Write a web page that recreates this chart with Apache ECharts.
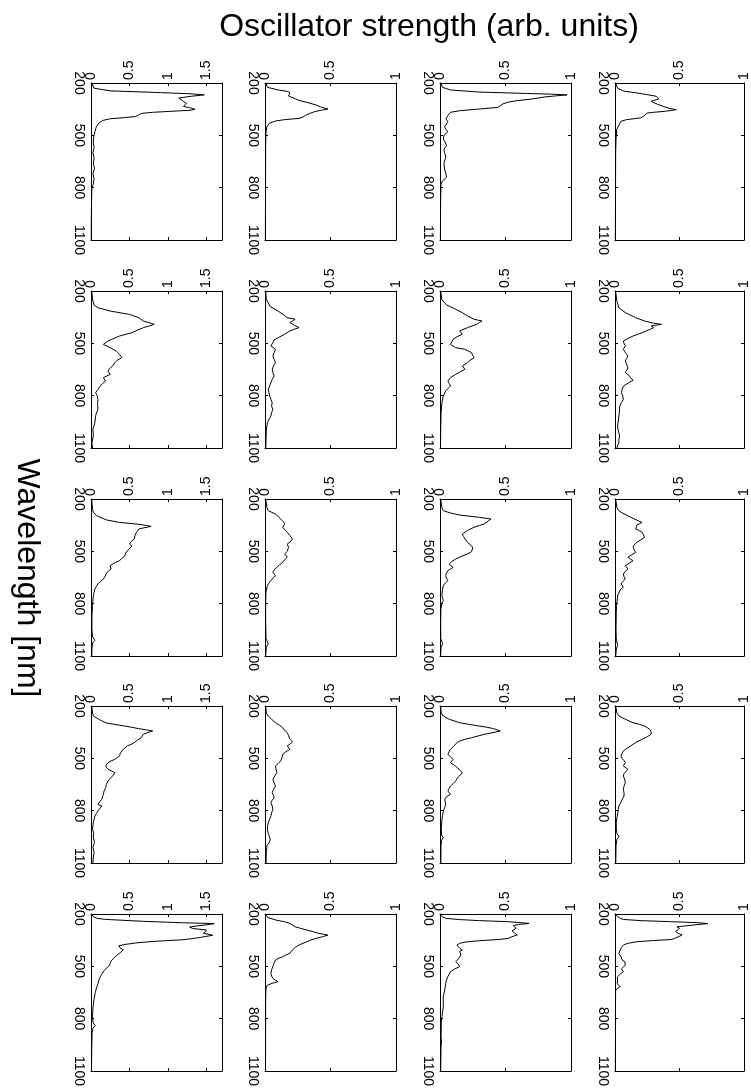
<!DOCTYPE html>
<html lang="en">
<head>
    <meta charset="UTF-8">
    <title>Oscillator strength spectra</title>
    <script src="https://cdn.jsdelivr.net/npm/echarts@6/dist/echarts.min.js"></script>
    <style>
        html, body { margin: 0; padding: 0; background: #fff; }
        #chart { width: 751px; height: 1092px; }
    </style>
</head>
<body>
<div id="chart"></div>
<script>
// each panel: [wavelength nm, oscillator strength]
var r1c1 = [[200,0.01],[230,0.04],[245,0.25],[255,0.9],[262,1.3],[268,1.47],[276,1.3],[286,1.14],[296,1.15],[306,1.2],[316,1.24],[326,1.25],[334,1.2],[342,1.28],[350,1.35],[356,1.3],[362,1.05],[368,0.8],[374,0.66],[382,0.62],[392,0.58],[398,0.45],[405,0.25],[415,0.15],[430,0.1],[450,0.07],[480,0.05],[510,0.035],[540,0.03],[570,0.04],[600,0.025],[630,0.04],[660,0.03],[690,0.045],[720,0.025],[750,0.04],[780,0.03],[800,0.012],[850,0.008],[950,0.005],[1100,0.003]];
var r1c2 = [[200,0.005],[225,0.02],[240,0.1],[248,0.17],[254,0.19],[262,0.18],[275,0.18],[290,0.23],[300,0.26],[311,0.32],[326,0.39],[339,0.43],[349,0.48],[356,0.43],[364,0.38],[375,0.34],[385,0.31],[395,0.29],[403,0.26],[410,0.15],[418,0.08],[430,0.035],[450,0.015],[480,0.008],[550,0.005],[1100,0.003]];
var r1c3 = [[200,0.005],[225,0.02],[240,0.08],[252,0.3],[260,0.66],[264,0.85],[268,0.97],[274,0.88],[280,0.8],[292,0.7],[301,0.59],[310,0.52],[320,0.48],[330,0.46],[340,0.44],[349,0.3],[359,0.15],[368,0.08],[387,0.06],[406,0.045],[420,0.06],[435,0.05],[450,0.035],[465,0.045],[480,0.06],[500,0.03],[521,0.025],[540,0.04],[559,0.05],[580,0.03],[600,0.035],[620,0.045],[636,0.04],[660,0.03],[693,0.035],[720,0.045],[741,0.05],[760,0.02],[780,0.008],[850,0.005],[1100,0.003]];
var r1c4 = [[200,0.005],[230,0.02],[247,0.07],[257,0.17],[267,0.25],[276,0.32],[292,0.34],[300,0.3],[305,0.28],[314,0.27],[322,0.33],[333,0.37],[343,0.41],[353,0.475],[362,0.39],[368,0.3],[372,0.25],[391,0.22],[400,0.2],[410,0.09],[420,0.045],[429,0.03],[467,0.013],[524,0.008],[600,0.005],[1100,0.003]];

var r2c1 = [[200,0.01],[248,0.02],[280,0.04],[296,0.09],[315,0.25],[334,0.5],[353,0.62],[372,0.68],[391,0.82],[400,0.76],[410,0.68],[425,0.6],[439,0.53],[458,0.37],[475,0.28],[487,0.22],[506,0.16],[525,0.25],[545,0.33],[563,0.37],[582,0.4],[597,0.34],[611,0.31],[630,0.28],[645,0.24],[659,0.22],[678,0.25],[697,0.16],[716,0.19],[730,0.15],[745,0.12],[764,0.09],[783,0.06],[800,0.08],[821,0.09],[850,0.085],[879,0.09],[900,0.07],[917,0.06],[955,0.05],[993,0.025],[1031,0.03],[1070,0.012],[1100,0.02]];
var r2c2 = [[200,0.005],[248,0.01],[290,0.04],[315,0.1],[335,0.14],[353,0.17],[362,0.23],[372,0.21],[381,0.19],[395,0.22],[410,0.26],[420,0.22],[429,0.19],[448,0.15],[468,0.1],[480,0.07],[496,0.06],[515,0.045],[534,0.08],[553,0.07],[572,0.06],[592,0.07],[611,0.08],[630,0.065],[649,0.055],[668,0.06],[687,0.07],[706,0.055],[726,0.045],[745,0.035],[764,0.025],[783,0.03],[802,0.036],[821,0.045],[840,0.055],[860,0.05],[879,0.06],[898,0.05],[917,0.045],[936,0.03],[955,0.018],[1000,0.01],[1050,0.008],[1100,0.006]];
var r2c3 = [[200,0.005],[250,0.015],[280,0.05],[305,0.12],[324,0.17],[343,0.21],[362,0.26],[372,0.32],[381,0.3],[391,0.28],[410,0.21],[429,0.15],[448,0.17],[462,0.13],[477,0.1],[492,0.09],[506,0.08],[525,0.12],[534,0.19],[553,0.24],[570,0.25],[582,0.26],[597,0.23],[611,0.21],[630,0.17],[649,0.19],[665,0.15],[678,0.12],[697,0.08],[716,0.06],[730,0.07],[745,0.08],[760,0.06],[773,0.044],[802,0.025],[840,0.015],[900,0.008],[1000,0.005],[1100,0.004]];
var r2c4 = [[200,0.005],[260,0.015],[296,0.03],[324,0.08],[353,0.16],[372,0.23],[385,0.3],[391,0.36],[400,0.28],[410,0.3],[420,0.27],[439,0.21],[458,0.14],[472,0.1],[487,0.065],[500,0.07],[515,0.08],[534,0.065],[553,0.08],[572,0.1],[587,0.09],[601,0.08],[620,0.09],[640,0.1],[655,0.09],[668,0.08],[685,0.11],[697,0.12],[712,0.14],[720,0.13],[733,0.09],[745,0.065],[764,0.055],[783,0.05],[802,0.06],[821,0.065],[840,0.05],[860,0.036],[888,0.035],[917,0.03],[945,0.025],[974,0.02],[1000,0.025],[1031,0.036],[1050,0.03],[1070,0.03],[1085,0.02],[1100,0.015]];

var r3c1 = [[200,0.01],[260,0.02],[276,0.03],[295,0.07],[305,0.09],[320,0.2],[334,0.37],[345,0.62],[352,0.72],[357,0.78],[364,0.7],[372,0.62],[382,0.6],[391,0.59],[410,0.57],[429,0.56],[445,0.52],[458,0.5],[470,0.53],[477,0.53],[487,0.49],[496,0.47],[510,0.45],[525,0.44],[540,0.4],[554,0.37],[563,0.32],[573,0.28],[582,0.25],[592,0.24],[601,0.26],[611,0.25],[620,0.21],[630,0.19],[645,0.18],[659,0.16],[673,0.12],[687,0.09],[700,0.07],[716,0.05],[735,0.04],[754,0.03],[780,0.025],[812,0.02],[870,0.012],[950,0.012],[990,0.02],[1010,0.05],[1025,0.02],[1060,0.012],[1100,0.01]];
var r3c2 = [[200,0.005],[250,0.015],[267,0.025],[286,0.08],[300,0.1],[315,0.12],[330,0.14],[343,0.15],[352,0.14],[362,0.135],[375,0.15],[391,0.17],[410,0.19],[420,0.2],[429,0.21],[438,0.2],[448,0.19],[458,0.17],[468,0.16],[477,0.18],[487,0.19],[500,0.17],[515,0.15],[525,0.16],[534,0.17],[548,0.15],[563,0.135],[578,0.11],[592,0.09],[606,0.07],[620,0.06],[630,0.07],[640,0.08],[654,0.06],[668,0.045],[682,0.03],[697,0.018],[735,0.007],[800,0.005],[900,0.005],[1000,0.008],[1030,0.025],[1050,0.01],[1100,0.005]];
var r3c3 = [[200,0.005],[250,0.015],[267,0.025],[280,0.08],[292,0.15],[305,0.3],[315,0.39],[325,0.37],[343,0.34],[352,0.3],[362,0.26],[380,0.21],[401,0.17],[415,0.18],[429,0.19],[448,0.21],[468,0.24],[480,0.25],[490,0.26],[503,0.24],[515,0.21],[530,0.16],[544,0.12],[558,0.09],[573,0.07],[582,0.08],[592,0.1],[601,0.08],[611,0.06],[625,0.05],[640,0.044],[654,0.05],[668,0.06],[682,0.04],[697,0.025],[725,0.018],[754,0.015],[770,0.02],[783,0.025],[797,0.015],[830,0.007],[900,0.005],[1000,0.006],[1030,0.02],[1050,0.008],[1100,0.005]];
var r3c4 = [[200,0.005],[250,0.015],[267,0.03],[282,0.06],[296,0.1],[311,0.14],[325,0.18],[334,0.21],[342,0.19],[349,0.17],[360,0.16],[372,0.16],[382,0.19],[391,0.21],[405,0.22],[420,0.23],[434,0.2],[448,0.17],[462,0.15],[477,0.14],[492,0.15],[506,0.16],[520,0.13],[534,0.1],[544,0.12],[554,0.14],[568,0.11],[582,0.08],[592,0.09],[601,0.1],[615,0.08],[630,0.065],[645,0.07],[659,0.08],[673,0.06],[687,0.047],[697,0.055],[706,0.065],[716,0.045],[726,0.03],[750,0.022],[773,0.018],[810,0.012],[850,0.01],[950,0.008],[1000,0.01],[1040,0.02],[1060,0.01],[1100,0.006]];

var r4c1 = [[200,0.01],[240,0.02],[257,0.03],[276,0.1],[296,0.19],[305,0.3],[315,0.44],[322,0.53],[330,0.62],[337,0.72],[343,0.8],[352,0.74],[362,0.68],[372,0.66],[382,0.65],[396,0.6],[410,0.56],[420,0.52],[429,0.47],[443,0.43],[458,0.4],[472,0.38],[487,0.37],[496,0.34],[506,0.31],[515,0.26],[525,0.22],[535,0.2],[544,0.19],[553,0.2],[563,0.22],[573,0.27],[582,0.31],[592,0.3],[601,0.28],[615,0.25],[630,0.22],[649,0.2],[668,0.19],[687,0.17],[706,0.16],[720,0.15],[735,0.14],[750,0.11],[764,0.09],[773,0.14],[783,0.12],[802,0.09],[816,0.07],[831,0.05],[850,0.04],[869,0.03],[907,0.02],[930,0.035],[950,0.03],[980,0.045],[1010,0.025],[1040,0.04],[1070,0.03],[1100,0.025]];
var r4c2 = [[200,0.005],[240,0.01],[257,0.025],[276,0.05],[296,0.08],[310,0.11],[324,0.135],[340,0.15],[353,0.17],[370,0.18],[390,0.19],[405,0.21],[410,0.21],[420,0.19],[429,0.17],[438,0.18],[448,0.19],[462,0.16],[477,0.135],[496,0.13],[515,0.12],[530,0.1],[544,0.08],[563,0.085],[582,0.09],[600,0.075],[620,0.06],[640,0.07],[659,0.08],[678,0.065],[697,0.055],[712,0.065],[726,0.07],[740,0.055],[754,0.045],[773,0.055],[793,0.06],[812,0.05],[831,0.045],[850,0.035],[869,0.025],[890,0.02],[907,0.018],[930,0.025],[950,0.035],[968,0.04],[985,0.03],[1000,0.015],[1040,0.01],[1100,0.008]];
var r4c3 = [[200,0.005],[240,0.01],[257,0.025],[276,0.07],[296,0.15],[305,0.22],[315,0.3],[322,0.36],[330,0.41],[338,0.44],[343,0.46],[350,0.42],[362,0.34],[372,0.29],[382,0.24],[391,0.19],[401,0.15],[410,0.13],[420,0.12],[434,0.1],[448,0.08],[462,0.07],[477,0.06],[491,0.08],[506,0.1],[515,0.09],[525,0.08],[540,0.11],[554,0.135],[568,0.15],[582,0.17],[592,0.16],[601,0.15],[615,0.13],[630,0.12],[645,0.1],[659,0.08],[673,0.07],[687,0.06],[697,0.07],[706,0.08],[720,0.05],[735,0.036],[750,0.04],[764,0.044],[783,0.035],[802,0.025],[826,0.02],[850,0.015],[900,0.01],[940,0.012],[955,0.025],[970,0.012],[1000,0.008],[1100,0.006]];
var r4c4 = [[200,0.005],[240,0.015],[257,0.03],[276,0.08],[296,0.14],[305,0.19],[315,0.23],[324,0.25],[334,0.27],[348,0.28],[362,0.28],[376,0.25],[391,0.21],[405,0.17],[420,0.14],[439,0.1],[458,0.065],[472,0.055],[487,0.047],[500,0.055],[513,0.07],[525,0.08],[535,0.07],[544,0.065],[553,0.08],[563,0.1],[575,0.085],[588,0.07],[601,0.065],[620,0.075],[640,0.08],[659,0.07],[678,0.065],[697,0.07],[716,0.07],[730,0.06],[745,0.05],[760,0.04],[773,0.03],[793,0.025],[812,0.022],[840,0.015],[869,0.01],[900,0.01],[930,0.015],[950,0.03],[965,0.015],[1000,0.008],[1100,0.006]];

var r5c1 = [[200,0.01],[215,0.03],[225,0.08],[231,0.19],[242,0.68],[250,1.18],[255,1.6],[262,1.5],[268,1.38],[275,1.28],[283,1.32],[292,1.5],[302,1.5],[311,1.46],[316,1.52],[322,1.58],[328,1.5],[334,1.42],[342,1.3],[348,1.18],[356,0.85],[365,0.6],[374,0.45],[382,0.36],[388,0.34],[396,0.38],[406,0.42],[415,0.4],[425,0.37],[438,0.33],[450,0.3],[465,0.27],[480,0.25],[495,0.24],[510,0.2],[525,0.17],[545,0.14],[560,0.12],[580,0.1],[600,0.09],[625,0.07],[650,0.056],[685,0.04],[720,0.03],[760,0.022],[800,0.02],[825,0.03],[840,0.055],[855,0.025],[880,0.015],[950,0.01],[1100,0.006]];
var r5c2 = [[200,0.005],[220,0.02],[234,0.08],[245,0.15],[254,0.19],[264,0.2],[273,0.23],[282,0.27],[292,0.32],[302,0.37],[311,0.41],[316,0.45],[321,0.48],[330,0.44],[340,0.39],[349,0.35],[359,0.32],[368,0.29],[378,0.26],[392,0.23],[406,0.21],[415,0.2],[425,0.19],[435,0.16],[445,0.135],[455,0.1],[464,0.08],[480,0.07],[502,0.06],[520,0.05],[540,0.045],[555,0.05],[569,0.06],[580,0.08],[588,0.1],[594,0.07],[600,0.045],[610,0.015],[630,0.007],[700,0.005],[1100,0.004]];
var r5c3 = [[200,0.005],[215,0.015],[225,0.045],[232,0.15],[238,0.3],[244,0.52],[250,0.62],[254,0.68],[260,0.6],[266,0.56],[273,0.55],[282,0.58],[292,0.59],[297,0.55],[301,0.54],[310,0.57],[320,0.59],[330,0.55],[340,0.52],[346,0.45],[353,0.3],[360,0.2],[368,0.15],[378,0.13],[387,0.12],[396,0.15],[406,0.17],[415,0.15],[425,0.135],[435,0.16],[445,0.17],[458,0.14],[473,0.12],[487,0.14],[502,0.15],[516,0.11],[531,0.08],[545,0.07],[559,0.06],[578,0.05],[597,0.044],[617,0.04],[636,0.036],[655,0.03],[674,0.025],[700,0.025],[731,0.025],[760,0.02],[789,0.015],[820,0.01],[900,0.008],[940,0.012],[960,0.008],[1100,0.005]];
var r5c4 = [[200,0.005],[215,0.02],[225,0.04],[231,0.065],[238,0.2],[244,0.43],[250,0.65],[255,0.72],[262,0.62],[268,0.55],[273,0.48],[282,0.5],[292,0.51],[301,0.47],[311,0.49],[320,0.52],[328,0.5],[334,0.48],[340,0.46],[346,0.44],[352,0.3],[359,0.17],[368,0.1],[378,0.065],[392,0.05],[406,0.04],[427,0.03],[445,0.047],[465,0.056],[473,0.076],[494,0.08],[502,0.065],[515,0.05],[523,0.043],[531,0.065],[545,0.04],[561,0.018],[580,0.02],[600,0.018],[617,0.04],[626,0.02],[638,0.005],[700,0.004],[1100,0.003]];

var panels = [
    [r1c1, r1c2, r1c3, r1c4],
    [r2c1, r2c2, r2c3, r2c4],
    [r3c1, r3c2, r3c3, r3c4],
    [r4c1, r4c2, r4c3, r4c4],
    [r5c1, r5c2, r5c3, r5c4]
];
var strengthMax = [1.7, 1, 1, 1];   // per column
var wlMin = 200, wlMax = 1100, wlStep = 300;

var titleText = 'Oscillator strength (arb. units)';
var wlText = 'Wavelength [nm]';

// layout (pixels)
var colLeft = [91, 265, 440, 615];
var rowTop = [83, 291, 499, 706, 914];
var cellW = 131, cellH = 157;
var FONT = '"Liberation Sans", Arial, Helvetica, sans-serif';

var chart = echarts.init(document.getElementById('chart'));

var grids = [], xAxes = [], yAxes = [], series = [];
var plain = function (v) { return String(v); };
var labelStyle = { rotate: -90, fontSize: 14, color: '#000', fontFamily: FONT, formatter: plain };
var lineStyleAx = { color: '#000', width: 1 };

panels.forEach(function (row, r) {
    row.forEach(function (pts, c) {
        var g = grids.length;
        grids.push({ left: colLeft[c], top: rowTop[r], width: cellW, height: cellH, containLabel: false });
        // strength axis: labels on top, mirrored ticks on bottom
        xAxes.push({
            type: 'value', gridIndex: g, position: 'top', min: 0, max: strengthMax[c], interval: 0.5,
            axisLine: { show: true, onZero: false, lineStyle: lineStyleAx },
            axisTick: { show: true, inside: true, length: 3, lineStyle: lineStyleAx },
            splitLine: { show: false },
            axisLabel: Object.assign({ margin: 3, showMaxLabel: c !== 0 }, labelStyle)
        });
        xAxes.push({
            type: 'value', gridIndex: g, position: 'bottom', min: 0, max: strengthMax[c], interval: 0.5,
            axisLine: { show: true, onZero: false, lineStyle: lineStyleAx },
            axisTick: { show: true, inside: true, length: 3, lineStyle: lineStyleAx },
            splitLine: { show: false }, axisLabel: { show: false }
        });
        // wavelength axis: labels on left, mirrored ticks on right
        yAxes.push({
            type: 'value', gridIndex: g, position: 'left', inverse: true, min: wlMin, max: wlMax, interval: wlStep,
            axisLine: { show: true, onZero: false, lineStyle: lineStyleAx },
            axisTick: { show: true, inside: true, length: 3, lineStyle: lineStyleAx },
            splitLine: { show: false },
            axisLabel: Object.assign({ margin: 5 }, labelStyle)
        });
        yAxes.push({
            type: 'value', gridIndex: g, position: 'right', inverse: true, min: wlMin, max: wlMax, interval: wlStep,
            axisLine: { show: true, onZero: false, lineStyle: lineStyleAx },
            axisTick: { show: true, inside: true, length: 3, lineStyle: lineStyleAx },
            splitLine: { show: false }, axisLabel: { show: false }
        });
        series.push({
            type: 'line', xAxisIndex: 2 * g, yAxisIndex: 2 * g,
            data: pts.map(function (p) { return [p[1], p[0]]; }),
            showSymbol: false, symbol: 'none', silent: true,
            lineStyle: { color: '#000', width: 1 }
        });
    });
});

chart.setOption({
    backgroundColor: '#fff',
    animation: false,
    title: {
        text: titleText, left: 424, top: 6, textAlign: 'center',
        textStyle: { fontSize: 32, fontWeight: 'normal', color: '#000', fontFamily: FONT }
    },
    graphic: [{
        type: 'text', x: 27, y: 578, rotation: -Math.PI / 2,
        style: { text: wlText, fontSize: 32, fontFamily: FONT, fill: '#000', textAlign: 'center', textVerticalAlign: 'middle' }
    }],
    grid: grids,
    xAxis: xAxes,
    yAxis: yAxes,
    series: series
});
</script>
</body>
</html>
